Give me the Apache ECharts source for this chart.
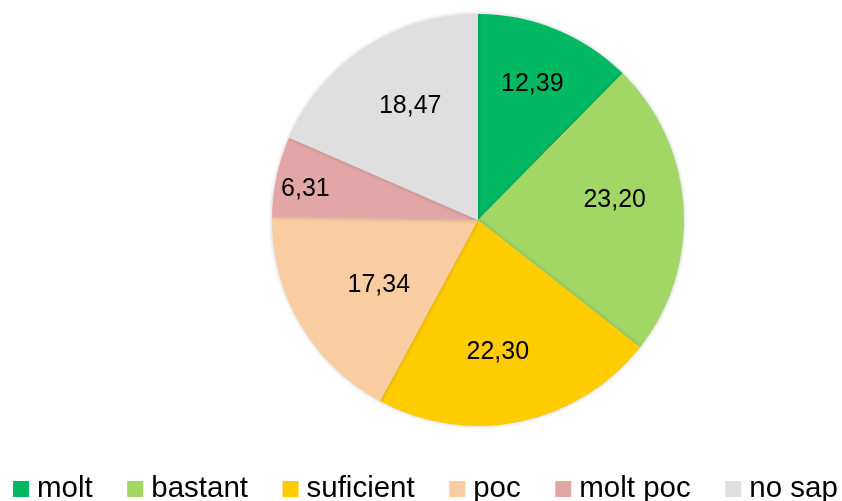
<!DOCTYPE html>
<html>
<head>
<meta charset="utf-8">
<script src="https://cdn.jsdelivr.net/npm/echarts@6/dist/echarts.min.js"></script>
<style>
  html, body { margin: 0; padding: 0; background: #ffffff; }
  #chart { width: 842px; height: 501px; }
</style>
</head>
<body>
<div id="chart"></div>
<script>
// Response categories and their shares (%)
const categories = ['molt', 'bastant', 'suficient', 'poc', 'molt poc', 'no sap'];
const shares = [12.39, 23.20, 22.30, 17.34, 6.31, 18.47];
const sliceColors = ['#00B962', '#A2D665', '#FFCC00', '#F9CCA2', '#E2A6A6', '#DFDFDF'];
// small per-slice nudges of the value labels
const labelNudge = [[-3, 4], [-14, -10], [-11, -16], [31, -11], [-25, 1], [15, 12]];

const fmt = v => v.toFixed(2).replace('.', ',');

const chart = echarts.init(document.getElementById('chart'), null, { renderer: 'canvas' });

const center = [478, 220];
const outer = 206;

chart.setOption({
  animation: false,
  backgroundColor: '#ffffff',
  color: sliceColors,
  legend: {
    data: categories,
    left: 13,
    top: 474,
    width: 880,
    padding: 0,
    icon: 'rect',
    itemWidth: 16,
    itemHeight: 16,
    itemGap: 34.5,
    selectedMode: false,
    textStyle: {
      fontFamily: 'Liberation Sans, Arial, sans-serif',
      fontSize: 29.5,
      color: '#000000',
      padding: [0, 0, 0, 3]
    }
  },
  series: [
    {
      // the slices
      type: 'pie',
      center: center,
      radius: [0, outer],
      startAngle: 90,
      clockwise: true,
      silent: true,
      label: { show: false },
      labelLine: { show: false },
      itemStyle: {
        borderWidth: 0,
        shadowBlur: 4,
        shadowColor: 'rgba(0,0,0,0.22)'
      },
      data: categories.map((name, i) => ({ name: name, value: shares[i] }))
    },
    {
      // value labels, placed inside the slices
      type: 'pie',
      center: center,
      radius: [90, outer],
      startAngle: 90,
      clockwise: true,
      silent: true,
      legendHoverLink: false,
      itemStyle: { color: 'rgba(0,0,0,0)', borderWidth: 0 },
      emphasis: { disabled: true },
      labelLine: { show: false },
      data: categories.map((name, i) => ({
        name: name + ' ',
        value: shares[i],
        label: {
          show: true,
          position: 'inside',
          formatter: fmt(shares[i]),
          fontFamily: 'Liberation Sans, Arial, sans-serif',
          fontSize: 25,
          color: '#000000',
          offset: labelNudge[i]
        }
      }))
    }
  ]
});
</script>
</body>
</html>
